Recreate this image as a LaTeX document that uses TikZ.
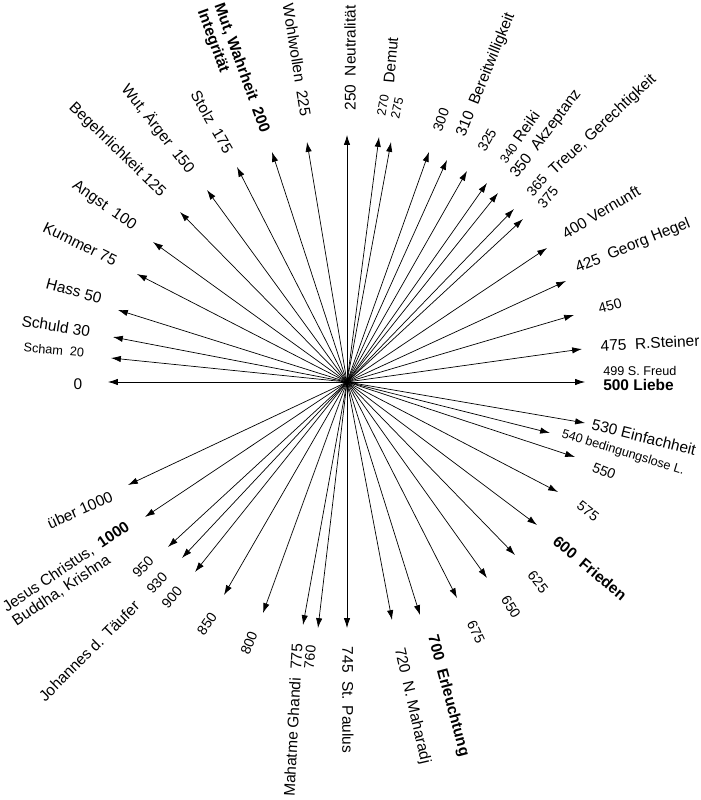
\documentclass[tikz,border=0pt]{standalone}
\usepackage{fontspec}
\setmainfont{Liberation Sans}
\usetikzlibrary{arrows.meta}

\tikzset{
  pfeil/.style={-{Latex[length=7pt,width=4.5pt]}, line width=0.5pt},
  txt/.style={inner sep=0pt, font=\fontsize{11}{12}\selectfont},
  zahl/.style={inner sep=0pt, font=\fontsize{10}{11}\selectfont},
  klein/.style={inner sep=0pt, font=\fontsize{9}{10}\selectfont},
  fett/.style={inner sep=0pt, font=\fontsize{11}{12.5}\selectfont\bfseries},
}

\begin{document}
\begin{tikzpicture}[x=0.025cm, y=-0.025cm]
        \useasboundingbox (0,0) rectangle (700,800);

        % Center of the star
        \coordinate (m) at (347,382);

        % Arrow tips, left upper half
        \coordinate (p0) at (108,382);
        \coordinate (p20) at (111,358);
        \coordinate (p30) at (113,337);
        \coordinate (p50) at (118,310);
        \coordinate (p75) at (137,274);
        \coordinate (p100) at (153,242);
        \coordinate (p125) at (180,212);
        \coordinate (p150) at (207,190);
        \coordinate (p175) at (237,167);
        \coordinate (p200) at (272,152);
        \coordinate (p225) at (307,142);
        \coordinate (p250) at (347,135);

        % Arrow tips, right upper half
        \coordinate (p270) at (379,137);
        \coordinate (p275) at (391,142);
        \coordinate (p300) at (429,152);
        \coordinate (p310) at (447,160);
        \coordinate (p325) at (467,171);
        \coordinate (p340) at (487,183);
        \coordinate (p350) at (498,193);
        \coordinate (p365) at (514,209);
        \coordinate (p375) at (523,219);
        \coordinate (p400) at (547,248);
        \coordinate (p425) at (566,281);
        \coordinate (p450) at (574,315);
        \coordinate (p475) at (582,349);
        \coordinate (p500) at (585,382);

        % Arrow tips, right lower half
        \coordinate (p530) at (585,423);
        \coordinate (p540) at (550,433);
        \coordinate (p550) at (575,457);
        \coordinate (p575) at (558,492);
        \coordinate (p600) at (537,525);
        \coordinate (p625) at (515,555);
        \coordinate (p650) at (487,578);
        \coordinate (p675) at (457,598);
        \coordinate (p700) at (420,615);
        \coordinate (p720) at (392,620);
        \coordinate (p745) at (347,628);

        % Arrow tips, left lower half
        \coordinate (p760) at (318,628);
        \coordinate (p775) at (303,625);
        \coordinate (p800) at (263,613);
        \coordinate (p850) at (224,595);
        \coordinate (p900) at (195,572);
        \coordinate (p930) at (182,558);
        \coordinate (p950) at (168,547);
        \coordinate (p1000) at (145,517);
        \coordinate (pueber) at (128,485);

        % Draw the arrows
        \draw[pfeil] (m) -- (p0);
        \draw[pfeil] (m) -- (p20);
        \draw[pfeil] (m) -- (p30);
        \draw[pfeil] (m) -- (p50);
        \draw[pfeil] (m) -- (p75);
        \draw[pfeil] (m) -- (p100);
        \draw[pfeil] (m) -- (p125);
        \draw[pfeil] (m) -- (p150);
        \draw[pfeil] (m) -- (p175);
        \draw[pfeil] (m) -- (p200);
        \draw[pfeil] (m) -- (p225);
        \draw[pfeil] (m) -- (p250);
        \draw[pfeil] (m) -- (p270);
        \draw[pfeil] (m) -- (p275);
        \draw[pfeil] (m) -- (p300);
        \draw[pfeil] (m) -- (p310);
        \draw[pfeil] (m) -- (p325);
        \draw[pfeil] (m) -- (p340);
        \draw[pfeil] (m) -- (p350);
        \draw[pfeil] (m) -- (p365);
        \draw[pfeil] (m) -- (p375);
        \draw[pfeil] (m) -- (p400);
        \draw[pfeil] (m) -- (p425);
        \draw[pfeil] (m) -- (p450);
        \draw[pfeil] (m) -- (p475);
        \draw[pfeil] (m) -- (p500);
        \draw[pfeil] (m) -- (p530);
        \draw[pfeil] (m) -- (p540);
        \draw[pfeil] (m) -- (p550);
        \draw[pfeil] (m) -- (p575);
        \draw[pfeil] (m) -- (p600);
        \draw[pfeil] (m) -- (p625);
        \draw[pfeil] (m) -- (p650);
        \draw[pfeil] (m) -- (p675);
        \draw[pfeil] (m) -- (p700);
        \draw[pfeil] (m) -- (p720);
        \draw[pfeil] (m) -- (p745);
        \draw[pfeil] (m) -- (p760);
        \draw[pfeil] (m) -- (p775);
        \draw[pfeil] (m) -- (p800);
        \draw[pfeil] (m) -- (p850);
        \draw[pfeil] (m) -- (p900);
        \draw[pfeil] (m) -- (p930);
        \draw[pfeil] (m) -- (p950);
        \draw[pfeil] (m) -- (p1000);
        \draw[pfeil] (m) -- (pueber);

        % Labels, left upper half
        \node[txt] (l0) at (78,384) {0};
        \node[klein, rotate=-5] (l20) at (54,350) {Scham~~20};
        \node[txt, rotate=-9] (l30) at (56,326) {Schuld 30};
        \node[txt, rotate=-15] (l50) at (74,291) {Hass 50};
        \node[txt, rotate=-26] (l75) at (80,244) {Kummer 75};
        \node[txt, rotate=-35] (l100) at (104,206) {Angst~~100};
        \node[txt, rotate=-44] (l125) at (117,150) {Begehrlichkeit 125};
        \node[txt, rotate=-52] (l150) at (158,129) {Wut, Ärger~~150};
        \node[txt, rotate=-60] (l175) at (212,122) {Stolz~~175};
        \node[fett, rotate=-70, align=left] (l200) at (233,71) {Mut, Wahrheit~~200\\Integrität};
        \node[txt, rotate=-81] (l225) at (297,60) {Wohlwollen~~225};
        \node[txt, rotate=90] (l250) at (350,58) {250~~Neutralität};

        % Labels, right upper half
        \node[klein, rotate=80] (l270) at (383,105) {270};
        \node[klein, rotate=78] (l275) at (397,108) {275};
        \node[txt, rotate=85] (ldemut) at (391,60) {Demut};
        \node[zahl, rotate=70] (l300) at (441,120) {300};
        \node[txt, rotate=68] (l310) at (486,75) {310~~Bereitwilligkeit};
        \node[zahl, rotate=60] (l325) at (487,140) {325};
        \node[txt, rotate=55] (l340) at (519,137) {{\fontsize{9}{10}\selectfont 340}~Reiki};
        \node[txt, rotate=53] (l350) at (546,134) {350~~Akzeptanz};
        \node[zahl, rotate=50] (l365) at (537,185) {365};
        \node[zahl, rotate=50] (l375) at (548,197) {375};
        \node[txt, rotate=43] (ltreue) at (603,125) {Treue, Gerechtigkeit};
        \node[txt, rotate=31] (l400) at (601,212) {400 Vernunft};
        \node[txt, rotate=22] (l425) at (633,246) {425~~Georg Hegel};
        \node[zahl, rotate=15] (l450) at (610,306) {450};
        \node[txt, rotate=3] (l475) at (650,343) {475~~R.Steiner};
        \node[klein, anchor=west] (l499) at (603,371) {499 S. Freud};
        \node[fett, anchor=west] (l500) at (603,385) {500 Liebe};

        % Labels, right lower half
        \node[txt, rotate=-14] (l530) at (644,437) {530 Einfachheit};
        \node[klein, rotate=-17] (l540) at (623,453) {540 bedingungslose L.};
        \node[zahl, rotate=-22] (l550) at (604,471) {550};
        \node[zahl, rotate=-38] (l575) at (588,511) {575};
        \node[fett, rotate=-40] (l600) at (590,568) {600~~Frieden};
        \node[zahl, rotate=-52] (l625) at (538,582) {625};
        \node[zahl, rotate=-58] (l650) at (511,607) {650};
        \node[zahl, rotate=-65] (l675) at (476,632) {675};
        \node[fett, rotate=-75] (l700) at (448,696) {700~~Erleuchtung};
        \node[txt, rotate=-77] (l720) at (412,706) {720~~N. Maharadj};
        \node[txt, rotate=-90] (l745) at (348,700) {745~~St. Paulus};

        % Labels, left lower half
        \node[zahl, rotate=84] (l760) at (310,657) {760};
        \node[txt, rotate=87] (l775) at (293,720) {Mahatme Ghandi~~775};
        \node[zahl, rotate=68] (l800) at (249,643) {800};
        \node[zahl, rotate=55] (l850) at (207,624) {850};
        \node[zahl, rotate=50] (l900) at (172,597) {900};
        \node[zahl, rotate=48] (l930) at (157,583) {930};
        \node[zahl, rotate=46] (l950) at (143,567) {950};
        \node[txt, rotate=45] (ljohannes) at (89,651) {Johannes d. Täufer};
        \node[txt, rotate=34, align=left] (l1000) at (71,574) {Jesus Christus,~~\textbf{1000}\\Buddha, Krishna};
        \node[txt, rotate=24] (lueber) at (80,510) {über 1000};
\end{tikzpicture}
\end{document}
